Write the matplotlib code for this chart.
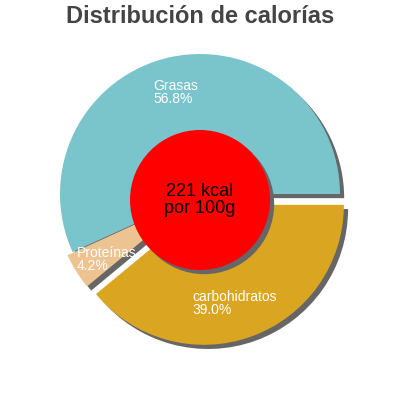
import matplotlib
matplotlib.use("Agg")
import matplotlib.pyplot as plt
import matplotlib.patches as mpatches

labels = ["Grasas", "Proteínas", "carbohidratos"]
values = [56.8, 4.2, 39.0]
colors = ["#7ac4cc", "#edc391", "#daa520"]
center_text = "221 kcal\npor 100g"
title = "Distribución de calorías"

# offsets of the pulled-out slices, in pixels
explode = [0, 6, 11.5]
# label anchor positions in pixel coords (x, y from top)
label_pos = [(153, 79), (77, 246), (192, 290)]

plt.rcParams['font.family'] = ['Liberation Sans', 'DejaVu Sans']

fig = plt.figure(figsize=(4, 4), dpi=100)
ax = fig.add_axes([0, 0, 1, 1])

wedges, _ = ax.pie(values, colors=colors, explode=explode, startangle=0,
                   counterclock=True, center=(200, 206), radius=140,
                   shadow={'ox': 3, 'oy': -3, 'facecolor': '#666666',
                           'edgecolor': 'none', 'alpha': 1},
                   wedgeprops={'linewidth': 0}, frame=True)
ax.set_xlim(0, 400)
ax.set_ylim(0, 400)
ax.set_aspect('equal')
ax.axis('off')

circ = mpatches.Circle((200, 200), 70, facecolor='#ff0000', edgecolor='none', zorder=5)
ax.add_patch(circ)
shad = mpatches.Shadow(circ, 3, -3, facecolor='#666666', edgecolor='none', alpha=1)
shad.set_zorder(4.9)
ax.add_patch(shad)

ax.text(200, 200, center_text, ha='center', va='center', fontsize=13,
        color='black', zorder=6, linespacing=1.0)

for lab, v, (px, py) in zip(labels, values, label_pos):
    ax.text(px, 400 - py, f"{lab}\n{v:.1f}%", ha='left', va='top',
            fontsize=10, color='white', linespacing=0.9, zorder=6)

fig.text(0.5, 0.988, title, ha='center', va='top', fontsize=17,
         fontweight='bold', color='#444444')

fig.savefig("out.png", dpi=100)
